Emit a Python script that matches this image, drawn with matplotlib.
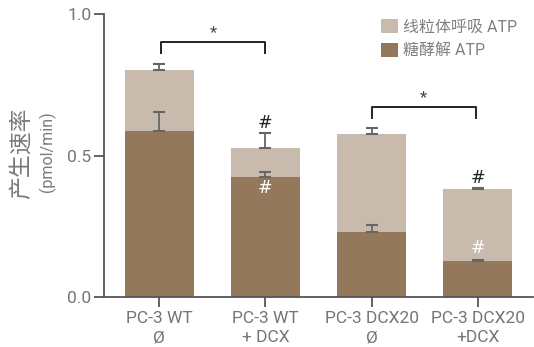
import matplotlib
matplotlib.use("Agg")
import matplotlib.pyplot as plt
from matplotlib.patches import Patch

categories = ["PC-3 WT\nØ", "PC-3 WT\n+ DCX", "PC-3 DCX20\nØ", "PC-3 DCX20\n+DCX"]
glyco = [0.587, 0.423, 0.230, 0.128]
glyco_err = [0.067, 0.020, 0.024, 0.003]
total = [0.802, 0.528, 0.576, 0.382]
total_err = [0.022, 0.050, 0.021, 0.003]
mito = [t - g for t, g in zip(total, glyco)]
legend_labels = ["线粒体呼吸 ATP", "糖酵解 ATP"]
yticks = [0.0, 0.5, 1.0]

c_light = "#c8bbad"
c_dark = "#93785b"
c_text = "#757575"
c_axis = "#555555"

plt.rcParams['font.family'] = ['Roboto', 'Noto Sans CJK SC', 'DejaVu Sans']

fig = plt.figure(figsize=(5.34, 3.47), dpi=100)
ax = fig.add_axes([104/534, 50/347, 429/534, 283/347])

x = list(range(len(categories)))
w = 0.65
ax.bar(x, glyco, width=w, color=c_dark, zorder=2)
ax.bar(x, mito, bottom=glyco, width=w, color=c_light, zorder=2)

ekw = dict(fmt='none', ecolor="#666666", elinewidth=1.3, capsize=4, capthick=1.5, zorder=3)
ax.errorbar(x, glyco, yerr=[[0]*4, glyco_err], **ekw)
ax.errorbar(x, total, yerr=[[0]*4, total_err], **ekw)

ax.set_xlim(-0.52, 3.52)
ax.set_ylim(0, 1.0)
ax.set_yticks(yticks)
ax.set_yticklabels([f"{v:.1f}" for v in yticks])
ax.set_xticks(x)
ax.set_xticklabels(categories, linespacing=1.35)
for s in ['top', 'right']:
    ax.spines[s].set_visible(False)
for s in ['left', 'bottom']:
    ax.spines[s].set_color(c_axis)
    ax.spines[s].set_linewidth(1.3)
ax.tick_params(axis='both', colors=c_axis, labelcolor=c_text, labelsize=12.5,
               length=7, width=1.3, direction='out', pad=2)
ax.tick_params(axis='x', pad=3)

# significance brackets
def bracket(x0, x1, ytop, ybot, ystar):
    ax.plot([x0, x0, x1, x1], [ybot, ytop, ytop, ybot], color="#222222", lw=1.4,
            clip_on=False, zorder=4)
    ax.text((x0 + x1) / 2, ystar, "*", ha='center', va='center', fontsize=12,
            color="#444444")

bracket(0.02, 1.0, 0.902, 0.863, 0.935)
bracket(2.0, 2.98, 0.670, 0.631, 0.703)

# hash marks
hkw = dict(ha='center', va='center', fontsize=12.5, zorder=5, family=['DejaVu Sans'])
ax.text(1, 0.615, "#", color="#222222", **hkw)
ax.text(1, 0.385, "#", color="white", **hkw)
ax.text(3, 0.420, "#", color="#222222", **hkw)
ax.text(3, 0.172, "#", color="white", **hkw)

# legend
handles = [Patch(facecolor=c_light, edgecolor='none'), Patch(facecolor=c_dark, edgecolor='none')]
leg = fig.legend(handles, legend_labels, loc='upper left',
                 bbox_to_anchor=(381/534, 1 - 19/347), frameon=False, fontsize=11.5,
                 handlelength=1.05, handleheight=1.0, handletextpad=0.3,
                 labelspacing=0.5, borderaxespad=0, borderpad=0)
for t in leg.get_texts():
    t.set_color("#808080")

# y labels
fig.text(21/534, 1 - 153/347, "产生速率", rotation=90, ha='center', va='center',
         fontsize=16.5, color="#7a7a7a", family=['Noto Sans CJK SC', 'DejaVu Sans'])
fig.text(47/534, 1 - 152/347, "(pmol/min)", rotation=90, ha='center', va='center',
         fontsize=11.5, color="#7a7a7a")

fig.savefig("out.png", dpi=100)
